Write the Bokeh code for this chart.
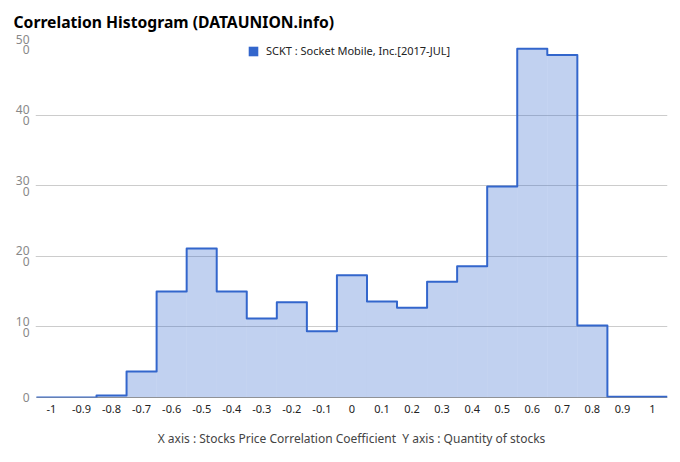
import numpy as np
from bokeh.plotting import figure
from bokeh.models import (FixedTicker, Title, Range1d, ColumnDataSource, Legend, LegendItem,
                          CDSView, IndexFilter)
from bokeh.embed import file_html
from bokeh.resources import INLINE

x_centers = [-1.0, -0.9, -0.8, -0.7, -0.6, -0.5, -0.4, -0.3, -0.2, -0.1, 0.0,
             0.1, 0.2, 0.3, 0.4, 0.5, 0.6, 0.7, 0.8, 0.9, 1.0]
counts = [0, 0, 3, 37, 150, 211, 150, 112, 135, 94, 173,
          136, 127, 164, 186, 299, 494, 485, 102, 1, 1]
x_tick_labels = ["-1", "-0.9", "-0.8", "-0.7", "-0.6", "-0.5", "-0.4", "-0.3", "-0.2", "-0.1", "0",
                 "0.1", "0.2", "0.3", "0.4", "0.5", "0.6", "0.7", "0.8", "0.9", "1"]
y_ticks = [0, 100, 200, 300, 400, 500]
y_tick_labels = ["0", "10\n0", "20\n0", "30\n0", "40\n0", "50\n0"]
series_name = "SCKT : Socket Mobile, Inc.[2017-JUL]"
title_text = "Correlation Histogram (DATAUNION.info)"

FONT = "Noto Sans"
LINE = "#3366CC"

p = figure(width=676, height=456, output_backend="svg", toolbar_location=None,
           x_range=Range1d(-1.053, 1.05), y_range=Range1d(0, 500),
           min_border_left=35, min_border_right=9, min_border_top=44, min_border_bottom=59)
p.outline_line_color = None
p.background_fill_color = "white"

xc = np.array(x_centers)
cv = np.array(counts, dtype=float)
half = 0.05
src = ColumnDataSource(dict(left=xc - half, right=xc + half, top=cv, bottom=np.zeros_like(cv)))
p.quad(left="left", right="right", top="top", bottom="bottom", source=src,
       fill_color=LINE, fill_alpha=0.3, line_color=None)

# baseline
p.segment(x0=[xc[0] - half], x1=[xc[-1] + half], y0=[0], y1=[0], line_color="#333333", line_width=1)

# outline step path
px = np.ravel(np.column_stack([xc - half, xc + half]))
py = np.ravel(np.column_stack([cv, cv]))
p.line(px, py, line_color=LINE, line_width=2, line_join="round")

# legend swatch: solid quads restricted to the empty (zero-count) bins, so they draw nothing in the plot
zero_idx = [int(i) for i in np.where(cv == 0)[0]]
leg_r = p.quad(left="left", right="right", top="top", bottom="bottom", source=src,
               view=CDSView(filter=IndexFilter(indices=zero_idx)),
               fill_color=LINE, fill_alpha=1.0, line_color=None)
legend = Legend(items=[LegendItem(label=series_name, renderers=[leg_r])],
                location=(212, 339), orientation="horizontal")
legend.margin = 0
legend.padding = 0
legend.border_line_color = None
legend.background_fill_alpha = 0
legend.glyph_width = 12
legend.glyph_height = 12
legend.label_standoff = 7
legend.label_text_font = FONT
legend.label_text_font_size = "11px"
legend.label_text_color = "#222222"
legend.label_height = 14
p.add_layout(legend)

# axes
p.xaxis.ticker = FixedTicker(ticks=x_centers)
p.xaxis.major_label_overrides = {float(v): s for v, s in zip(x_centers, x_tick_labels)}
p.xaxis.major_label_text_font = FONT
p.xaxis.major_label_text_font_size = "11px"
p.xaxis.major_label_text_color = "#222222"
p.xaxis.major_label_standoff = 1
p.xaxis.major_tick_line_color = None
p.xaxis.minor_tick_line_color = None
p.xaxis.axis_line_color = None
p.xaxis.axis_label = "X axis : Stocks Price Correlation Coefficient\u00a0 Y axis : Quantity of stocks"
p.xaxis.axis_label_text_font = FONT
p.xaxis.axis_label_text_font_style = "normal"
p.xaxis.axis_label_text_font_size = "12px"
p.xaxis.axis_label_text_color = "#444444"
p.xaxis.axis_label_standoff = 14

p.yaxis.ticker = FixedTicker(ticks=y_ticks)
p.yaxis.major_label_overrides = {v: s for v, s in zip(y_ticks, y_tick_labels)}
p.yaxis.major_label_text_font = FONT
p.yaxis.major_label_text_font_size = "12px"
p.yaxis.major_label_text_color = "#888888"
p.yaxis.major_label_text_line_height = 0.64
p.yaxis.major_label_standoff = 0
p.yaxis.major_tick_line_color = None
p.yaxis.minor_tick_line_color = None
p.yaxis.axis_line_color = None

p.xgrid.grid_line_color = None
p.ygrid.ticker = FixedTicker(ticks=y_ticks[1:])
p.ygrid.grid_line_color = "#cccccc"

p.title = Title(text=title_text, text_font=FONT, text_font_size="15.7px",
                text_font_style="bold", text_color="#000000",
                align="left", vertical_align="top", offset=-22, standoff=19)

open("out.html", "w").write(file_html(p, INLINE))
